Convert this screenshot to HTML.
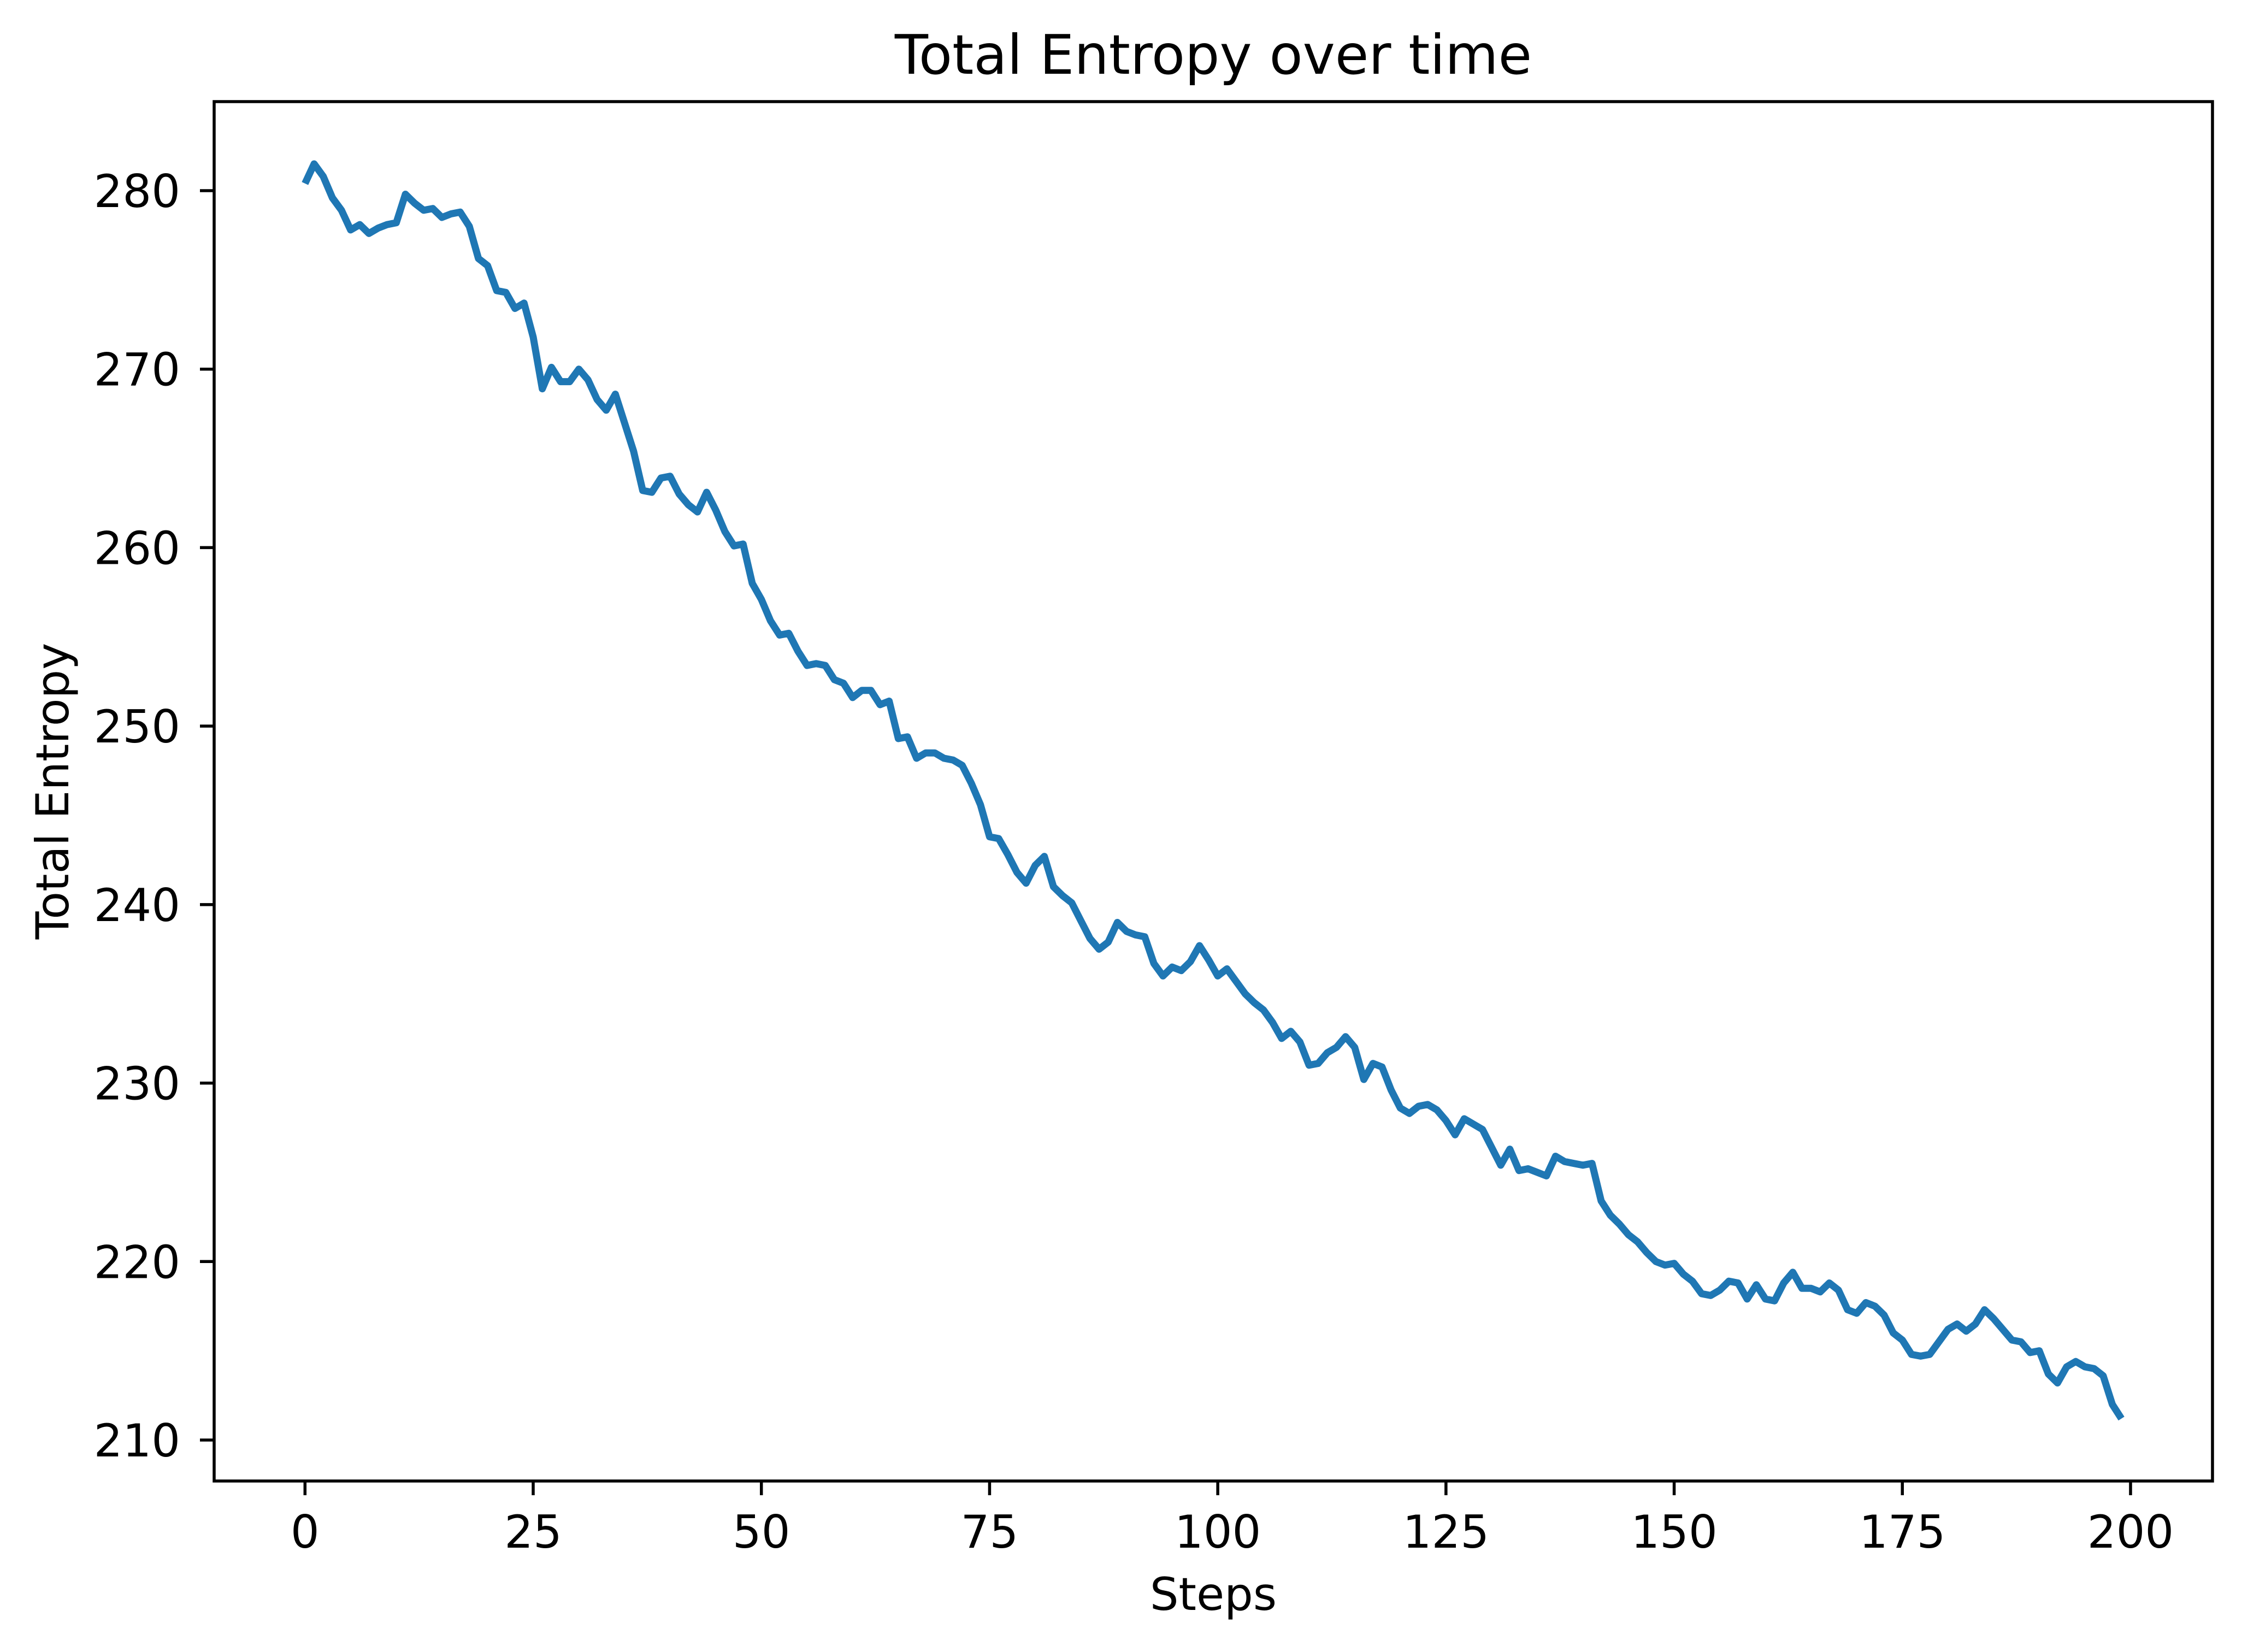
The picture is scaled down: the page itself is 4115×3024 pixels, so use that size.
<!DOCTYPE html>
<html><head><meta charset="utf-8"><style>
html,body{margin:0;padding:0;background:#fff;}
svg{display:block;font-family:"DejaVu Sans","Liberation Sans",sans-serif;}
</style></head><body>
<svg id="chart" width="4115" height="3024" viewBox="0 0 4115 3024" xmlns="http://www.w3.org/2000/svg">
<rect x="0" y="0" width="4115" height="3024" fill="#fff"/>
<text x="2221" y="135" font-size="100" text-anchor="middle">Total Entropy over time</text>
<text x="2221" y="2947" font-size="83" text-anchor="middle">Steps</text>
<text transform="translate(125,1448) rotate(-90)" font-size="83" text-anchor="middle">Total Entropy</text>
<g id="marks"></g>
<rect x="392" y="186" width="3658" height="2525" fill="none" stroke="#000" stroke-width="5.5"/>
<g id="axes"></g>
</svg>
<script>
const steps = [];
const entropy = [280.4,281.5,280.8,279.6,278.9,277.8,278.1,277.6,277.9,278.1,278.2,279.8,279.3,278.9,279.0,278.5,278.7,278.8,278.0,276.2,275.8,274.4,274.3,273.4,273.7,271.8,268.9,270.1,269.3,269.3,270.0,269.4,268.3,267.7,268.6,267.0,265.4,263.2,263.1,263.9,264.0,263.0,262.4,262.0,263.1,262.1,260.9,260.1,260.2,258.0,257.1,255.9,255.1,255.2,254.2,253.4,253.5,253.4,252.6,252.4,251.6,252.0,252.0,251.2,251.4,249.3,249.4,248.2,248.5,248.5,248.2,248.1,247.8,246.8,245.6,243.8,243.7,242.8,241.8,241.2,242.2,242.7,241.0,240.5,240.1,239.1,238.1,237.5,237.9,239.0,238.5,238.3,238.2,236.7,236.0,236.5,236.3,236.8,237.7,236.9,236.0,236.4,235.7,235.0,234.5,234.1,233.4,232.5,232.9,232.3,231.0,231.1,231.7,232.0,232.6,232.0,230.2,231.1,230.9,229.6,228.6,228.3,228.7,228.8,228.5,227.9,227.1,228.0,227.7,227.4,226.4,225.4,226.3,225.1,225.2,225.0,224.8,225.9,225.6,225.5,225.4,225.5,223.4,222.6,222.1,221.5,221.1,220.5,220.0,219.8,219.9,219.3,218.9,218.2,218.1,218.4,218.9,218.8,217.9,218.7,217.9,217.8,218.8,219.4,218.5,218.5,218.3,218.8,218.4,217.3,217.1,217.7,217.5,217.0,216.0,215.6,214.8,214.7,214.8,215.5,216.2,216.5,216.1,216.5,217.3,216.8,216.2,215.6,215.5,214.9,215.0,213.7,213.2,214.1,214.4,214.1,214.0,213.6,212.0,211.2];
for (let i = 0; i < entropy.length; i++) steps.push(i);
const xTicks = [0,25,50,75,100,125,150,175,200];
const yTicks = [210,220,230,240,250,260,270,280];

const NS = "http://www.w3.org/2000/svg";
function xScale(v){ return 558.3 + (v - 0) * (3900 - 558.3) / 200; }
function yScale(v){ return 349 + (280 - v) * (2636 - 349) / 70; }

const marks = document.getElementById('marks');
const line = document.createElementNS(NS, 'polyline');


line.setAttribute('points', steps.map((s,i)=>xScale(s).toFixed(1)+','+yScale(entropy[i]).toFixed(1)).join(' '));
line.setAttribute('fill', 'none');
line.setAttribute('stroke', '#1f77b4');
line.setAttribute('stroke-width', '13');
line.setAttribute('stroke-linejoin', 'round');
marks.appendChild(line);

const axes = document.getElementById('axes');
xTicks.forEach(t => {
  const x = xScale(t);
  const tk = document.createElementNS(NS, 'line');
  
  
  tk.setAttribute('x1', x); tk.setAttribute('x2', x);
  tk.setAttribute('y1', 2711); tk.setAttribute('y2', 2737);
  tk.setAttribute('stroke', '#000'); tk.setAttribute('stroke-width', '5.5');
  axes.appendChild(tk);
  const lb = document.createElementNS(NS, 'text');
  
  
  lb.setAttribute('x', x); lb.setAttribute('y', 2833);
  lb.setAttribute('font-size', '83'); lb.setAttribute('text-anchor', 'middle');
  lb.textContent = String(t);
  axes.appendChild(lb);
});
yTicks.forEach(t => {
  const y = yScale(t);
  const tk = document.createElementNS(NS, 'line');
  
  
  tk.setAttribute('x1', 366); tk.setAttribute('x2', 392);
  tk.setAttribute('y1', y); tk.setAttribute('y2', y);
  tk.setAttribute('stroke', '#000'); tk.setAttribute('stroke-width', '5.5');
  axes.appendChild(tk);
  const lb = document.createElementNS(NS, 'text');
  
  
  lb.setAttribute('x', 330); lb.setAttribute('y', y + 30);
  lb.setAttribute('font-size', '83'); lb.setAttribute('text-anchor', 'end');
  lb.textContent = String(t);
  axes.appendChild(lb);
});
</script>
</body></html>
